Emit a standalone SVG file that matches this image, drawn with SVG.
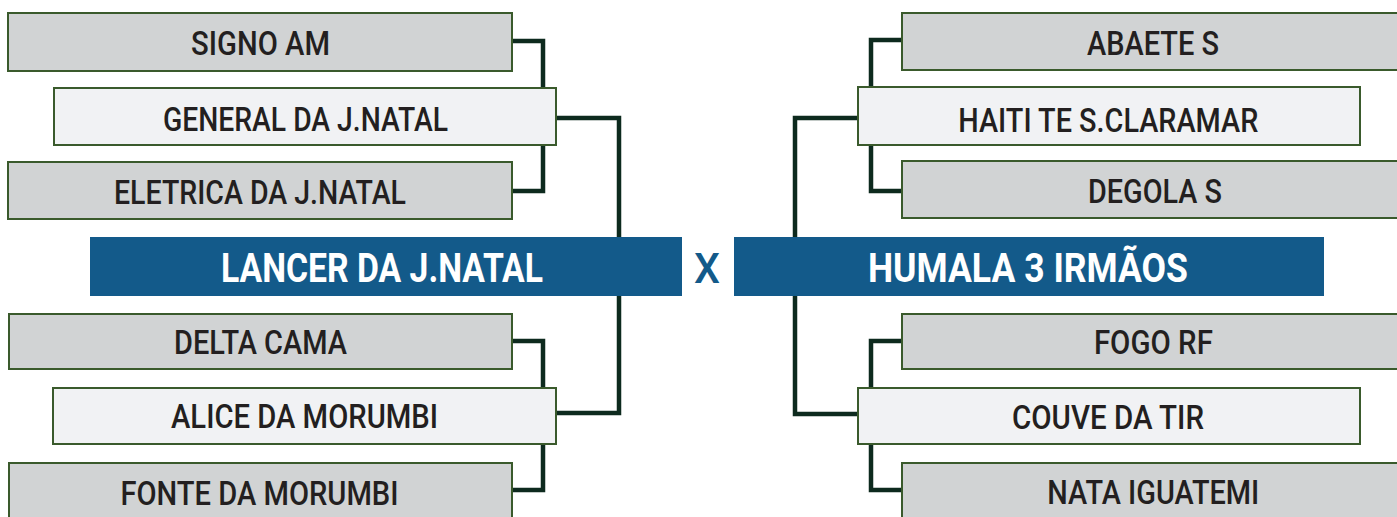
<svg xmlns="http://www.w3.org/2000/svg" width="1397" height="517" viewBox="0 0 1397 517">
<style>
.bg{fill:#ffffff}
.team{fill:#d1d3d4;stroke:#3a5a2c;stroke-width:2}
.win{fill:#f1f2f4;stroke:#3a5a2c;stroke-width:2}
.final{fill:#135a8a}
.lbl{font-family:Roboto,"Liberation Sans",sans-serif;font-weight:500;font-size:34px;fill:#231f20;text-anchor:middle}
.flbl{font-family:Roboto,"Liberation Sans",sans-serif;font-weight:700;font-size:41px;fill:#ffffff;text-anchor:middle}
.vs{font-family:Roboto,"Liberation Sans",sans-serif;font-weight:500;font-size:43px;fill:#135a8a;text-anchor:middle}
.conn{fill:none;stroke:#0d2a1e;stroke-width:4.5;stroke-linejoin:miter}
</style>
<rect class="bg" x="0" y="0" width="1397" height="517"/>
<g id="connectors">
<path class="conn" d="M512,41 H543 V191 H512"/>
<path class="conn" d="M556,118 H619 V413 H556"/>
<path class="conn" d="M512,341 H543 V490 H512"/>
<path class="conn" d="M902,40 H871 V191 H902"/>
<path class="conn" d="M858,118 H795 V414 H858"/>
<path class="conn" d="M902,341 H871 V490 H902"/>
</g>
<g id="signo-am"><rect class="team" x="8" y="13" width="504" height="58"/><text class="lbl" x="260.5" y="55" textLength="139" lengthAdjust="spacingAndGlyphs">SIGNO AM</text></g>
<g id="general-da-jnatal"><rect class="win" x="54" y="88" width="502" height="57"/><text class="lbl" x="305.5" y="131" textLength="285" lengthAdjust="spacingAndGlyphs">GENERAL DA J.NATAL</text></g>
<g id="eletrica-da-jnatal"><rect class="team" x="8" y="162" width="504" height="57"/><text class="lbl" x="260" y="204" textLength="292" lengthAdjust="spacingAndGlyphs">ELETRICA DA J.NATAL</text></g>
<g id="delta-cama"><rect class="team" x="9" y="314" width="503" height="55"/><text class="lbl" x="260.5" y="354" textLength="173" lengthAdjust="spacingAndGlyphs">DELTA CAMA</text></g>
<g id="alice-da-morumbi"><rect class="win" x="53" y="388" width="503" height="56"/><text class="lbl" x="304.5" y="428" textLength="267" lengthAdjust="spacingAndGlyphs">ALICE DA MORUMBI</text></g>
<g id="fonte-da-morumbi"><rect class="team" x="9" y="463" width="503" height="60"/><text class="lbl" x="259.5" y="505" textLength="278" lengthAdjust="spacingAndGlyphs">FONTE DA MORUMBI</text></g>
<g id="abaete-s"><rect class="team" x="902" y="13" width="504" height="57"/><text class="lbl" x="1153" y="55" textLength="132" lengthAdjust="spacingAndGlyphs">ABAETE S</text></g>
<g id="haiti-te-sclaramar"><rect class="win" x="858" y="87" width="502" height="58"/><text class="lbl" x="1108.3" y="131.5" textLength="300" lengthAdjust="spacingAndGlyphs">HAITI TE S.CLARAMAR</text></g>
<g id="degola-s"><rect class="team" x="902" y="161" width="504" height="57"/><text class="lbl" x="1155" y="203" textLength="134" lengthAdjust="spacingAndGlyphs">DEGOLA S</text></g>
<g id="fogo-rf"><rect class="team" x="902" y="314" width="504" height="55"/><text class="lbl" x="1153.4" y="354" textLength="119" lengthAdjust="spacingAndGlyphs">FOGO RF</text></g>
<g id="couve-da-tir"><rect class="win" x="858" y="388" width="502" height="56"/><text class="lbl" x="1108" y="429" textLength="192" lengthAdjust="spacingAndGlyphs">COUVE DA TIR</text></g>
<g id="nata-iguatemi"><rect class="team" x="902" y="463" width="504" height="60"/><text class="lbl" x="1153.3" y="504" textLength="212" lengthAdjust="spacingAndGlyphs">NATA IGUATEMI</text></g>
<g id="lancer-da-jnatal"><rect class="final" x="90" y="237" width="592" height="59"/><text class="flbl" x="382" y="282" textLength="322" lengthAdjust="spacingAndGlyphs">LANCER DA J.NATAL</text></g>
<g id="versus"><text class="vs" x="707" y="283" textLength="26" lengthAdjust="spacingAndGlyphs">X</text></g>
<g id="humala-3-irmaos"><rect class="final" x="734" y="237" width="590" height="59"/><text class="flbl" x="1028" y="282" textLength="320" lengthAdjust="spacingAndGlyphs">HUMALA 3 IRMÃOS</text></g>
</svg>
